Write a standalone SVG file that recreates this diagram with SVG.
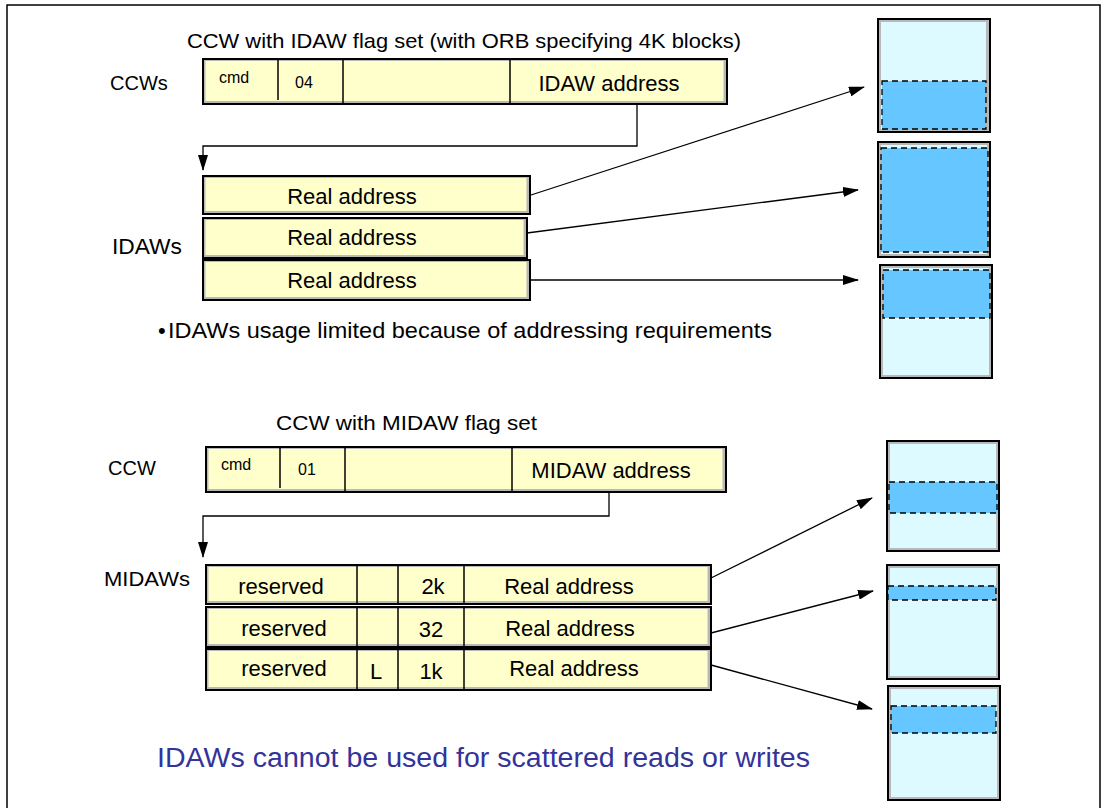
<svg xmlns="http://www.w3.org/2000/svg" width="1103" height="808" viewBox="0 0 1103 808">
<style>
text{font-family:"Liberation Sans",Arial,sans-serif;fill:#000}
.outer{fill:#b8b8b8;stroke:#000;stroke-width:2}
.inner{fill:#ffffcc;stroke:none}
.div{stroke:#000;stroke-width:1.5}
.t22{font-size:22px}
.t20{font-size:20px}
.t16{font-size:16px}
.mem{fill:#b8b8b8;stroke:#000;stroke-width:2}
.memin{fill:#dcfaff}
.blk{fill:#66c6ff;stroke:#000;stroke-width:1.3;stroke-dasharray:6 4}
.conn{fill:none;stroke:#000;stroke-width:1.3}
</style>
<defs>
<marker id="ah" markerWidth="16" markerHeight="10" refX="15" refY="5" orient="auto" markerUnits="userSpaceOnUse">
<path d="M0,0 L16,5 L0,10 Z" fill="#000"/>
</marker>
<marker id="ahd" markerWidth="10" markerHeight="16" refX="5" refY="15" orient="0" markerUnits="userSpaceOnUse">
<path d="M0,0 L10,0 L5,16 Z" fill="#000"/>
</marker>
</defs>
<rect width="1103" height="808" fill="#fff"/>
<path d="M7,820 L7,5 L1100,5 L1100,820" fill="none" stroke="#000" stroke-width="1.5"/>

<g id="labels">
<text x="187" y="48" font-size="21" textLength="554" lengthAdjust="spacingAndGlyphs">CCW with IDAW flag set (with ORB specifying 4K blocks)</text>
<text class="t20" x="110" y="90">CCWs</text>
<text class="t22" x="112" y="254" textLength="70" lengthAdjust="spacingAndGlyphs">IDAWs</text>
<text class="t22" x="158" y="338">•</text>
<text class="t22" x="168" y="338" textLength="604" lengthAdjust="spacingAndGlyphs">IDAWs usage limited because of addressing requirements</text>
<text x="276" y="430" font-size="21" textLength="261" lengthAdjust="spacingAndGlyphs">CCW with MIDAW flag set</text>
<text class="t20" x="108" y="475">CCW</text>
<text x="104" y="586" font-size="21" textLength="86" lengthAdjust="spacingAndGlyphs">MIDAWs</text>
<text x="157" y="767" font-size="27" textLength="653" lengthAdjust="spacingAndGlyphs" style="fill:#333399">IDAWs cannot be used for scattered reads or writes</text>
</g>

<g id="ccw-idaw">
<rect class="outer" x="203" y="59" width="524" height="45"/>
<rect class="inner" x="205.5" y="61" width="518" height="40"/>
<line class="div" x1="278" y1="60" x2="278" y2="100"/>
<line class="div" x1="343" y1="60" x2="343" y2="103"/>
<line class="div" x1="510" y1="60" x2="510" y2="103"/>
<text class="t16" x="219" y="83">cmd</text>
<text class="t16" x="295" y="88">04</text>
<text class="t22" x="609" y="91" text-anchor="middle">IDAW address</text>
</g>

<g id="idaw1">
<rect class="outer" x="203" y="176" width="327" height="38"/>
<rect class="inner" x="205.5" y="178" width="321" height="33"/>
<text class="t22" x="352" y="204" text-anchor="middle">Real address</text>
</g>
<g id="idaw2">
<rect class="outer" x="203" y="218" width="324" height="40"/>
<rect class="inner" x="205.5" y="220" width="318" height="35"/>
<text class="t22" x="352" y="245" text-anchor="middle">Real address</text>
</g>
<g id="idaw3">
<rect class="outer" x="203" y="260" width="327" height="40"/>
<rect class="inner" x="205.5" y="262" width="321" height="35"/>
<text class="t22" x="352" y="288" text-anchor="middle">Real address</text>
</g>

<g id="mem1">
<rect class="mem" x="878" y="19" width="112" height="113"/>
<rect class="memin" x="881" y="22" width="105" height="107"/>
<rect class="blk" x="882" y="81" width="104" height="48"/>
</g>
<g id="mem2">
<rect class="mem" x="878" y="142" width="112" height="115"/>
<rect class="memin" x="881" y="145" width="106" height="109"/>
<rect class="blk" x="881" y="148" width="107" height="104"/>
</g>
<g id="mem3">
<rect class="mem" x="880" y="265" width="112" height="113"/>
<rect class="memin" x="883" y="268" width="106" height="107"/>
<rect class="blk" x="883" y="270" width="107" height="48"/>
</g>

<g id="ccw-midaw">
<rect class="outer" x="206" y="447" width="520" height="45"/>
<rect class="inner" x="208.5" y="449" width="514" height="40"/>
<line class="div" x1="280" y1="448" x2="280" y2="488"/>
<line class="div" x1="345" y1="448" x2="345" y2="491"/>
<line class="div" x1="512" y1="448" x2="512" y2="491"/>
<text class="t16" x="221" y="470">cmd</text>
<text class="t16" x="298" y="475">01</text>
<text class="t22" x="611" y="478" text-anchor="middle">MIDAW address</text>
</g>

<g id="midaw1">
<rect class="outer" x="206" y="565" width="505" height="39"/>
<rect class="inner" x="208.5" y="567" width="499" height="34"/>
<line class="div" x1="357" y1="566" x2="357" y2="603"/>
<line class="div" x1="398" y1="566" x2="398" y2="603"/>
<line class="div" x1="464" y1="566" x2="464" y2="603"/>
<text class="t22" x="281" y="594" text-anchor="middle">reserved</text>
<text class="t22" x="433" y="594" text-anchor="middle">2k</text>
<text class="t22" x="569" y="594" text-anchor="middle">Real address</text>
</g>
<g id="midaw2">
<rect class="outer" x="206" y="607" width="505" height="40"/>
<rect class="inner" x="208.5" y="609" width="499" height="35"/>
<line class="div" x1="357" y1="608" x2="357" y2="646"/>
<line class="div" x1="398" y1="608" x2="398" y2="646"/>
<line class="div" x1="464" y1="608" x2="464" y2="646"/>
<text class="t22" x="284" y="636" text-anchor="middle">reserved</text>
<text class="t22" x="431" y="637" text-anchor="middle">32</text>
<text class="t22" x="570" y="636" text-anchor="middle">Real address</text>
</g>
<g id="midaw3">
<rect class="outer" x="206" y="649" width="505" height="41"/>
<rect class="inner" x="208.5" y="651" width="499" height="36"/>
<line class="div" x1="357" y1="650" x2="357" y2="689"/>
<line class="div" x1="398" y1="650" x2="398" y2="689"/>
<line class="div" x1="464" y1="650" x2="464" y2="689"/>
<text class="t22" x="284" y="676" text-anchor="middle">reserved</text>
<text class="t22" x="376" y="679" text-anchor="middle">L</text>
<text class="t22" x="431" y="679" text-anchor="middle">1k</text>
<text class="t22" x="574" y="676" text-anchor="middle">Real address</text>
</g>

<g id="mem4">
<rect class="mem" x="887" y="441" width="112" height="110"/>
<rect class="memin" x="890" y="444" width="106" height="104"/>
<rect class="blk" x="889" y="482" width="108" height="31"/>
</g>
<g id="mem5">
<rect class="mem" x="887" y="565" width="112" height="114"/>
<rect class="memin" x="890" y="568" width="106" height="108"/>
<rect class="blk" x="888" y="586" width="108" height="14"/>
</g>
<g id="mem6">
<rect class="mem" x="888" y="686" width="112" height="114"/>
<rect class="memin" x="891" y="689" width="106" height="108"/>
<rect class="blk" x="891" y="706" width="105" height="27"/>
</g>

<g id="connectors">
<path class="conn" d="M637,104 V146 H203 V170" marker-end="url(#ahd)"/>
<line class="conn" x1="531" y1="195" x2="864" y2="87" marker-end="url(#ah)"/>
<line class="conn" x1="527" y1="233" x2="858" y2="190" marker-end="url(#ah)"/>
<line class="conn" x1="530" y1="280" x2="858" y2="280" marker-end="url(#ah)"/>
<path class="conn" d="M609,492 V516 H203 V557" marker-end="url(#ahd)"/>
<line class="conn" x1="711" y1="578" x2="872" y2="498" marker-end="url(#ah)"/>
<line class="conn" x1="711" y1="633" x2="873" y2="591" marker-end="url(#ah)"/>
<line class="conn" x1="711" y1="665" x2="872" y2="709" marker-end="url(#ah)"/>
</g>
</svg>
